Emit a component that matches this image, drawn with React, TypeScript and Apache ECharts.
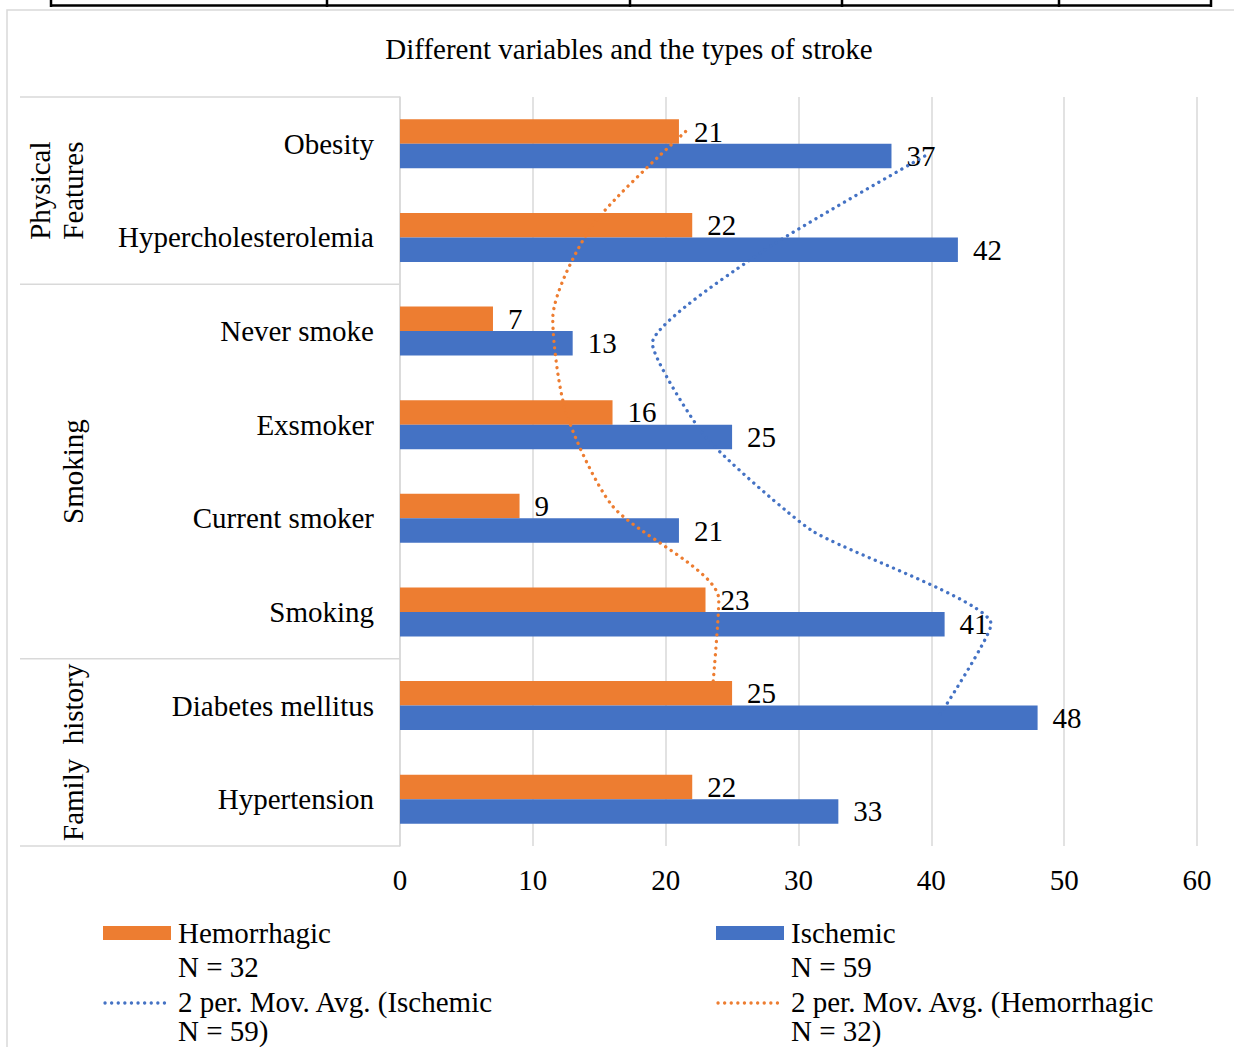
import React, { useEffect, useRef } from "react";
import * as echarts from "echarts";

const categories = [
  "Obesity",
  "Hypercholesterolemia",
  "Never smoke",
  "Exsmoker",
  "Current smoker",
  "Smoking",
  "Diabetes mellitus",
  "Hypertension",
];
const hemorrhagic = [21, 22, 7, 16, 9, 23, 25, 22];
const ischemic = [37, 42, 13, 25, 21, 41, 48, 33];
// 2-period moving averages as drawn (Excel trendlines), top to bottom
const hemorrhagicMovAvg = [21.5, 14.5, 11.5, 12.5, 16, 24, 23.5, null];
const ischemicMovAvg = [39.5, 27.5, 19, 23, 31, 44.5, 40.5, null];
const groups = [
  { name: "Physical\nFeatures", start: 0, end: 2 },
  { name: "Smoking", start: 2, end: 6 },
  { name: "Family  history", start: 6, end: 8 },
];
const xMin = 0;
const xMax = 60;
const xInterval = 10;
const titleText = "Different variables and the types of stroke";
const hemName = "Hemorrhagic\nN = 32";
const ischName = "Ischemic\nN = 59";

const ORANGE = "#ED7D31";
const BLUE = "#4472C4";
const GRID = "#d9d9d9";
const FONT = "'Liberation Serif', 'Times New Roman', serif";
const FS = 29;

const GRID_LEFT = 400;
const GRID_TOP = 97;
const GRID_RIGHT = 37;
const GRID_BOTTOM = 201;
const BAR_W = 24.5;

export default function App() {
  const ref = useRef<HTMLDivElement>(null);

  useEffect(() => {
    if (!ref.current) return;
    const chart = echarts.init(ref.current, null, { renderer: "svg" });
    const bandPx = (1047 - GRID_TOP - GRID_BOTTOM) / categories.length;
    const off = BAR_W / 2 / bandPx;

    const maData = (arr: (number | null)[], o: number) =>
      arr
        .map((v, i) => (v == null ? null : [v, i + o]))
        .filter((d) => d !== null);

    const dotted = (color: string) => ({
      color,
      width: 3.3,
      type: [0.1, 6.5] as any,
      cap: "round" as any,
    });

    const labelStyle = {
      show: true,
      position: "right" as const,
      distance: 15,
      color: "#000",
      fontSize: FS,
      fontFamily: FONT,
    };

    chart.setOption({
      animation: false,
      backgroundColor: "#fff",
      title: {
        text: titleText,
        left: 624,
        top: 29,
        textAlign: "center",
        textStyle: {
          fontFamily: FONT,
          fontSize: FS,
          fontWeight: "normal",
          color: "#000",
        },
      },
      grid: {
        left: GRID_LEFT,
        top: GRID_TOP,
        right: GRID_RIGHT,
        bottom: GRID_BOTTOM,
        containLabel: false,
      },
      xAxis: [
        {
          type: "value",
          min: xMin,
          max: xMax,
          interval: xInterval,
          axisLine: { show: false },
          axisTick: { show: false },
          splitLine: { lineStyle: { color: GRID, width: 1.5 } },
          axisLabel: {
            margin: 19,
            color: "#000",
            fontSize: FS,
            fontFamily: FONT,
          },
        },
      ],
      yAxis: [
        {
          type: "category",
          data: categories,
          inverse: true,
          axisLine: { lineStyle: { color: GRID, width: 1.5 } },
          axisTick: { show: false },
          axisLabel: {
            margin: 26,
            color: "#000",
            fontSize: FS,
            fontFamily: FONT,
          },
        },
        {
          type: "value",
          min: -0.5,
          max: categories.length - 0.5,
          inverse: true,
          show: false,
          splitLine: { show: false },
        },
      ],
      series: [
        {
          name: hemName,
          type: "bar",
          yAxisIndex: 0,
          data: hemorrhagic,
          barWidth: BAR_W,
          barGap: "0%",
          itemStyle: { color: ORANGE },
          label: labelStyle,
          z: 2,
        },
        {
          name: ischName,
          type: "bar",
          yAxisIndex: 0,
          data: ischemic,
          barWidth: BAR_W,
          barGap: "0%",
          itemStyle: { color: BLUE },
          label: labelStyle,
          z: 2,
        },
        {
          name: "2 per. Mov. Avg. (Ischemic\nN = 59)",
          type: "line",
          yAxisIndex: 1,
          data: maData(ischemicMovAvg, off),
          smooth: 0.18,
          symbol: "none",
          lineStyle: dotted(BLUE),
          z: 5,
        },
        {
          name: "2 per. Mov. Avg. (Hemorrhagic\nN = 32)",
          type: "line",
          yAxisIndex: 1,
          data: maData(hemorrhagicMovAvg, -off),
          smooth: 0.25,
          symbol: "none",
          lineStyle: dotted(ORANGE),
          z: 5,
        },
      ],
    });

    // group decorations computed through the library's scale
    const yOf = (idx: number) =>
      chart.convertToPixel({ yAxisIndex: 1 }, idx - 0.5) as number;
    const boundaries = Array.from(
      new Set(groups.flatMap((g) => [g.start, g.end]))
    );
    const groupLines = boundaries.map((b) => ({
      type: "line",
      shape: { x1: 20, y1: yOf(b), x2: GRID_LEFT, y2: yOf(b) },
      style: { stroke: GRID, lineWidth: 1.5 },
      silent: true,
    }));
    const groupLabels = groups.map((g) => {
      const multi = g.name.includes("\n");
      return {
        type: "text",
        x: multi ? 56.5 : 73,
        y: (yOf(g.start) + yOf(g.end)) / 2,
        rotation: Math.PI / 2,
        style: {
          text: g.name,
          fill: "#000",
          font: `${FS}px ${FONT}`,
          align: "center",
          verticalAlign: "middle",
          lineHeight: 33,
        },
        silent: true,
      };
    });

    const legendText = (x: number, y: number, t: string) => ({
      type: "text",
      x,
      y,
      style: {
        text: t,
        fill: "#000",
        font: `${FS}px ${FONT}`,
        align: "left",
        verticalAlign: "middle",
      },
      silent: true,
    });
    const legendDots = (x: number, y: number, color: string) => ({
      type: "line",
      shape: { x1: x + 2, y1: y, x2: x + 68, y2: y },
      style: {
        stroke: color,
        lineWidth: 3.3,
        lineDash: [0.1, 6.5],
        lineCap: "round",
      },
      silent: true,
    });

    const tableXs = [51, 327, 630, 842, 1059, 1211];

    chart.setOption({
      graphic: [
        // table remnant above the chart
        {
          type: "line",
          shape: { x1: 50, y1: 5.5, x2: 1212, y2: 5.5 },
          style: { stroke: "#000", lineWidth: 2.5 },
          silent: true,
        },
        ...tableXs.map((x) => ({
          type: "line",
          shape: { x1: x, y1: 0, x2: x, y2: 7 },
          style: { stroke: "#000", lineWidth: 2.5 },
          silent: true,
        })),
        // chart frame
        {
          type: "rect",
          shape: { x: 7, y: 10, width: 1260, height: 1080 },
          style: { fill: "none", stroke: GRID, lineWidth: 1.5 },
          silent: true,
          z: -1,
        },
        ...groupLines,
        ...groupLabels,
        // legend
        {
          type: "rect",
          shape: { x: 103, y: 926, width: 68, height: 14 },
          style: { fill: ORANGE },
          silent: true,
        },
        legendText(178, 933, "Hemorrhagic"),
        legendText(178, 967, "N = 32"),
        legendDots(103, 1003, BLUE),
        legendText(178, 1002, "2 per. Mov. Avg. (Ischemic"),
        legendText(178, 1031, "N = 59)"),
        {
          type: "rect",
          shape: { x: 716, y: 926, width: 68, height: 14 },
          style: { fill: BLUE },
          silent: true,
        },
        legendText(791, 933, "Ischemic"),
        legendText(791, 967, "N = 59"),
        legendDots(716, 1003, ORANGE),
        legendText(791, 1002, "2 per. Mov. Avg. (Hemorrhagic"),
        legendText(791, 1031, "N = 32)"),
      ],
    });

    return () => chart.dispose();
  }, []);

  return (
    <div
      ref={ref}
      style={{
        position: "absolute",
        left: 0,
        top: 0,
        width: 1234,
        height: 1047,
      }}
    />
  );
}
